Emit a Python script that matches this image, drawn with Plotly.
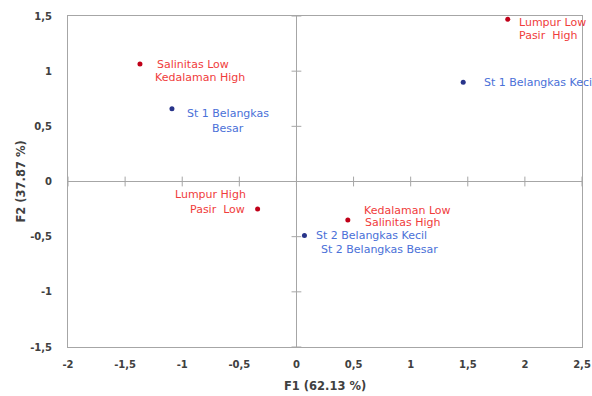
import plotly.graph_objects as go

# Data
var_names = ["Salinitas Low<br>Kedalaman High", "Lumpur Low<br>Pasir  High",
             "Lumpur High<br>Pasir  Low", "Kedalaman Low<br>Salinitas High"]
var_f1 = [-1.37, 1.85, -0.34, 0.45]
var_f2 = [1.065, 1.47, -0.25, -0.35]

obs_names = ["St 1 Belangkas<br>Besar", "St 1 Belangkas Kecil",
             "St 2 Belangkas Kecil<br>St 2 Belangkas Besar"]
obs_f1 = [-1.09, 1.46, 0.07]
obs_f2 = [0.66, 0.90, -0.49]

x_ticks = [-2, -1.5, -1, -0.5, 0, 0.5, 1, 1.5, 2, 2.5]
x_ticktext = ["-2", "-1,5", "-1", "-0,5", "0", "0,5", "1", "1,5", "2", "2,5"]
y_ticks = [-1.5, -1, -0.5, 0, 0.5, 1, 1.5]
y_ticktext = ["-1,5", "-1", "-0,5", "0", "0,5", "1", "1,5"]
x_title = "F1 (62.13 %)"
y_title = "F2 (37.87 %)"

RED_DOT = "#c00018"
RED_TXT = "#f03c3c"
BLUE_DOT = "#28348a"
BLUE_TXT = "#4a70d8"
GRAY = "#a6a6a6"
AXTXT = "#404040"
FONT = "DejaVu Sans"
LBL_SIZE = 11

# label placement styles: (xanchor, x offsets per line in px, first-line y offset px (down), line spacing px)
var_style = [("left", [15, 13], 0, 13),
             ("left", [9, 9], 3, 13),
             ("right", [-10, -11], -15, 15),
             ("left", [14, 15], -10, 12)]
obs_style = [("center", [56, 56], 5, 15),
             ("left", [19], 0, 14),
             ("left", [10, 15], 0, 14)]

fig = go.Figure()

# tick marks on zero lines
fig.add_trace(go.Scatter(x=x_ticks, y=[0] * len(x_ticks), mode="markers",
                         marker=dict(symbol="line-ns", size=7, line=dict(color=GRAY, width=1)),
                         hoverinfo="skip", showlegend=False))
fig.add_trace(go.Scatter(x=[0] * len(y_ticks), y=y_ticks, mode="markers",
                         marker=dict(symbol="line-ew", size=7, line=dict(color=GRAY, width=1)),
                         hoverinfo="skip", showlegend=False))

fig.add_trace(go.Scatter(x=var_f1, y=var_f2, mode="markers",
                         marker=dict(color=RED_DOT, size=5), showlegend=False, cliponaxis=False))
fig.add_trace(go.Scatter(x=obs_f1, y=obs_f2, mode="markers",
                         marker=dict(color=BLUE_DOT, size=5), showlegend=False, cliponaxis=False))

annots = []


def add_labels(names, xs, ys, styles, color):
    for n, x, y, (xa, dxs, dy0, sp) in zip(names, xs, ys, styles):
        for i, line in enumerate(n.split("<br>")):
            annots.append(dict(x=x, y=y, xref="x", yref="y", text=line, showarrow=False,
                               xanchor=xa, yanchor="middle", xshift=dxs[i],
                               yshift=-(dy0 + i * sp),
                               font=dict(color=color, size=LBL_SIZE, family=FONT)))


add_labels(var_names, var_f1, var_f2, var_style, RED_TXT)
add_labels(obs_names, obs_f1, obs_f2, obs_style, BLUE_TXT)

title_font = dict(size=11.5, color=AXTXT, family=FONT, weight="bold")
annots.append(dict(x=0.5, y=0, xref="paper", yref="paper", text=x_title, showarrow=False,
                   xanchor="center", yanchor="middle", yshift=-39, font=title_font))
annots.append(dict(x=0, y=0.5, xref="paper", yref="paper", text=y_title, showarrow=False,
                   xanchor="center", yanchor="middle", xshift=-48, textangle=-90,
                   font=title_font))

fig.update_layout(
    width=592, height=396,
    margin=dict(l=68, r=10, t=16, b=49, autoexpand=False),
    paper_bgcolor="white", plot_bgcolor="white",
    font=dict(family=FONT, color=AXTXT, size=10),
    annotations=annots,
    xaxis=dict(range=[-2, 2.5], tickvals=x_ticks, ticktext=x_ticktext, automargin=False,
               showgrid=False, zeroline=True, zerolinecolor=GRAY, zerolinewidth=1,
               showline=True, linecolor=GRAY, linewidth=1, mirror=True,
               ticks="", ticklabelstandoff=8,
               tickfont=dict(size=10, color=AXTXT, family=FONT, weight="bold")),
    yaxis=dict(range=[-1.5, 1.5], tickvals=y_ticks, ticktext=y_ticktext, automargin=False,
               showgrid=False, zeroline=True, zerolinecolor=GRAY, zerolinewidth=1,
               showline=True, linecolor=GRAY, linewidth=1, mirror=True,
               ticks="", ticklabelstandoff=13,
               tickfont=dict(size=10, color=AXTXT, family=FONT, weight="bold")),
)

# remove the default page margin so the figure fills the window exactly
fig.write_html("out.html",
               config={"displayModeBar": False},
               post_script="document.body.style.margin='0';document.body.style.overflow='hidden';")
